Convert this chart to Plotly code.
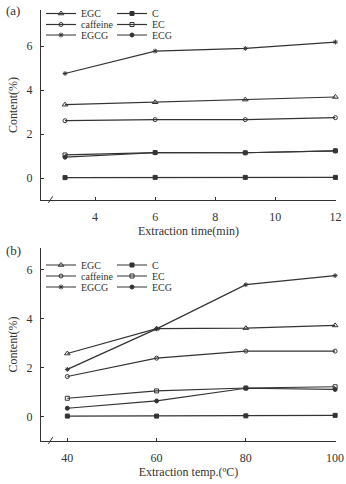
import plotly.graph_objects as go

# ---- data ----
time_min = [3, 6, 9, 12]
a_EGC = [3.34, 3.45, 3.57, 3.69]
a_C = [0.02, 0.03, 0.03, 0.03]
a_caffeine = [2.61, 2.66, 2.66, 2.75]
a_EC = [1.05, 1.16, 1.15, 1.24]
a_EGCG = [4.76, 5.78, 5.90, 6.19]
a_ECG = [0.95, 1.15, 1.15, 1.24]

temp_c = [40, 60, 80, 100]
b_EGC = [2.58, 3.60, 3.62, 3.73]
b_C = [0.02, 0.02, 0.03, 0.05]
b_caffeine = [1.64, 2.39, 2.68, 2.68]
b_EC = [0.75, 1.05, 1.17, 1.22]
b_EGCG = [1.93, 3.59, 5.40, 5.77]
b_ECG = [0.34, 0.64, 1.16, 1.11]

y_ticks = [0, 2, 4, 6]
names = ["EGC", "C", "caffeine", "EC", "EGCG", "ECG"]

FONT = "Liberation Serif, Times New Roman, serif"
INK = "#333333"

styles = {
    "EGC": dict(symbol="triangle-up-open", size=5),
    "C": dict(symbol="square", size=4),
    "caffeine": dict(symbol="circle-open", size=4),
    "EC": dict(symbol="square-open", size=4),
    "EGCG": dict(symbol="asterisk-open", size=4),
    "ECG": dict(symbol="circle", size=4),
}

W, H = 346, 484
ml, mr, mt, mb = 41, 10, 10, 43
ph = H - mt - mb
pw = W - ml - mr

def py(pix):
    return (H - mb - pix) / ph

def px(pix):
    return (pix - ml) / pw

fig = go.Figure()
legends = {}
leg_count = [0]

def add_panel(x, series, xa, ya, row_y):
    for i, name in enumerate(names):
        st = styles[name]
        leg_count[0] += 1
        lid = "legend" if leg_count[0] == 1 else f"legend{leg_count[0]}"
        col, row = i % 2, i // 2
        legends[lid] = dict(
            x=px(41 if col == 0 else 112), y=py(row_y[row]),
            xanchor="left", yanchor="middle",
            bgcolor="rgba(0,0,0,0)", borderwidth=0,
            font=dict(family=FONT, size=10, color=INK),
        )
        fig.add_trace(go.Scatter(
            x=x, y=series[name], name=name, mode="lines+markers",
            line=dict(color=INK, width=1.2),
            marker=dict(symbol=st["symbol"], size=st["size"], color=INK,
                        line=dict(color=INK, width=1)),
            xaxis=xa, yaxis=ya, cliponaxis=False, legend=lid,
        ))

add_panel(time_min, {"EGC": a_EGC, "C": a_C, "caffeine": a_caffeine, "EC": a_EC,
                     "EGCG": a_EGCG, "ECG": a_ECG}, "x", "y", [13.5, 24.5, 35])
add_panel(temp_c, {"EGC": b_EGC, "C": b_C, "caffeine": b_caffeine, "EC": b_EC,
                   "EGCG": b_EGCG, "ECG": b_ECG}, "x2", "y2", [265, 276, 287])

ax_common = dict(showline=True, linecolor=INK, linewidth=1, showgrid=False,
                 zeroline=False, ticks="inside", ticklen=3, tickcolor=INK,
                 ticklabeloverflow="allow",
                 tickfont=dict(family=FONT, size=12, color=INK))

fig.update_layout(
    width=W, height=H, margin=dict(l=ml, r=mr, t=mt, b=mb, autoexpand=False),
    paper_bgcolor="white", plot_bgcolor="white",
    font=dict(family=FONT, color=INK),
    xaxis=dict(ax_common, range=[2.2, 12.02], tickvals=[4, 6, 8, 10, 12],
               anchor="y", ticklabelstandoff=6,
               title=dict(text="Extraction time(min)", font=dict(family=FONT, size=12, color=INK),
                          standoff=2)),
    yaxis=dict(ax_common, range=[-1, 7.65], tickvals=y_ticks, domain=[py(200), 1],
               anchor="x", ticklabelstandoff=5,
               title=dict(text="Content(%)", font=dict(family=FONT, size=12, color=INK),
                          standoff=6)),
    xaxis2=dict(ax_common, range=[34.1, 100.2], tickvals=[40, 60, 80, 100],
                anchor="y2", ticklabelstandoff=6,
                title=dict(text="Extraction temp.(ºC)", font=dict(family=FONT, size=12, color=INK),
                           standoff=2)),
    yaxis2=dict(ax_common, range=[-1, 6.9], tickvals=y_ticks, domain=[0, py(248)],
                anchor="x2", ticklabelstandoff=5,
                title=dict(text="Content(%)", font=dict(family=FONT, size=12, color=INK),
                           standoff=6)),
    showlegend=True,
    **legends,
)

# panel labels
fig.add_annotation(text="(a)", xref="paper", yref="paper", x=px(4), y=py(10),
                   xanchor="left", yanchor="middle", showarrow=False,
                   font=dict(family=FONT, size=13, color=INK))
fig.add_annotation(text="(b)", xref="paper", yref="paper", x=px(4), y=py(251),
                   xanchor="left", yanchor="middle", showarrow=False,
                   font=dict(family=FONT, size=13, color=INK))

# axis break marks
for xr, yr in [("x domain", "y domain"), ("x2 domain", "y2 domain")]:
    fig.add_shape(type="line", xref=xr, yref=yr, x0=0.025, x1=0.04, y0=-0.015, y1=0.02,
                  line=dict(color=INK, width=1))

fig.write_html("out.html")
